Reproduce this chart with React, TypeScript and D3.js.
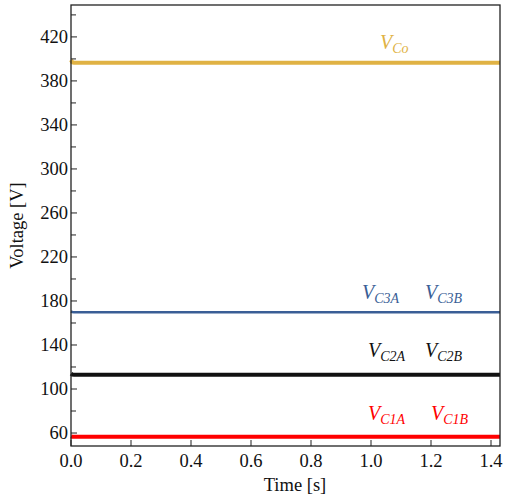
import React from "react";
import * as d3 from "d3";

const timeS = [0, 0.004, 0.01, 1.43];
const vCo = [399, 397, 396.5, 396.5];
const vC3 = [170.5, 170, 169.8, 169.8];
const vC2 = [114, 113.2, 113, 113];
const vC1 = [57, 56.6, 56.5, 56.5];

const xTicks = [0, 0.2, 0.4, 0.6, 0.8, 1.0, 1.2, 1.4];
const yTicks = [60, 100, 140, 180, 220, 260, 300, 340, 380, 420];
const yMinorTicks = [80, 120, 160, 200, 240, 280, 320, 360, 400, 440];

const series = [
  { name: "Co", values: vCo, color: "#E0B244", width: 4 },
  { name: "C3", values: vC3, color: "#3A5E96", width: 2.6 },
  { name: "C2", values: vC2, color: "#111111", width: 4 },
  { name: "C1", values: vC1, color: "#FF0000", width: 4 },
];

const labels = [
  { sub: "Co", t: 1.03, v: 409, color: "#E0B244" },
  { sub: "C3A", t: 0.97, v: 181.5, color: "#3A5E96" },
  { sub: "C3B", t: 1.18, v: 181.5, color: "#3A5E96" },
  { sub: "C2A", t: 0.99, v: 129, color: "#111111" },
  { sub: "C2B", t: 1.18, v: 129, color: "#111111" },
  { sub: "C1A", t: 0.99, v: 71.5, color: "#FF0000" },
  { sub: "C1B", t: 1.2, v: 71.5, color: "#FF0000" },
];

const FONT = '"Liberation Serif", "Times New Roman", Times, serif';

export default function App() {
  const W = 508, H = 498;
  const left = 71, right = 500, top = 5, bottom = 446;
  const x = d3.scaleLinear().domain([0, 1.43]).range([left, right]);
  const y = d3.scaleLinear().domain([48.2, 449]).range([bottom, top]);
  const line = d3
    .line<number>()
    .x((_, i) => x(timeS[i]))
    .y((d) => y(d));

  return (
    <svg width={W} height={H} style={{ position: "absolute", left: 0, top: 0, fontFamily: FONT }}>
      <rect x={0} y={0} width={W} height={H} fill="#fff" />
      {series.map((s) => (
        <path key={s.name} d={line(s.values) || ""} fill="none" stroke={s.color} strokeWidth={s.width} />
      ))}
      <rect x={left} y={top} width={right - left} height={bottom - top} fill="none" stroke="#222" strokeWidth={1.3} />
      {yTicks.map((t) => (
        <g key={"y" + t}>
          <line x1={left} x2={left + 6} y1={y(t)} y2={y(t)} stroke="#222" strokeWidth={1} />
          <text x={left - 3} y={y(t)} dy="0.35em" textAnchor="end" fontSize={18.5} fill="#111" style={{ fontFamily: FONT }}>
            {t}
          </text>
        </g>
      ))}
      {yMinorTicks.map((t) => (
        <line key={"ym" + t} x1={left} x2={left + 5} y1={y(t)} y2={y(t)} stroke="#222" strokeWidth={1} />
      ))}
      {xTicks.map((t) => (
        <g key={"x" + t}>
          <line x1={x(t)} x2={x(t)} y1={bottom} y2={bottom - 6} stroke="#222" strokeWidth={1} />
          <text x={x(t)} y={467} textAnchor="middle" fontSize={18.5} fill="#111" style={{ fontFamily: FONT }}>
            {t.toFixed(1)}
          </text>
        </g>
      ))}
      <text x={295} y={491} textAnchor="middle" fontSize={18.5} fill="#111" style={{ fontFamily: FONT }}>
        Time [s]
      </text>
      <text transform={`translate(23,${(top + bottom) / 2}) rotate(-90)`} textAnchor="middle" fontSize={18.5} fill="#111" style={{ fontFamily: FONT }}>
        Voltage [V]
      </text>
      {labels.map((l, i) => (
        <text key={i} x={x(l.t)} y={y(l.v)} fill={l.color} fontStyle="italic" fontSize={20} style={{ fontFamily: FONT }}>
          V
          <tspan fontSize={14} dy={4}>
            {l.sub}
          </tspan>
        </text>
      ))}
    </svg>
  );
}
